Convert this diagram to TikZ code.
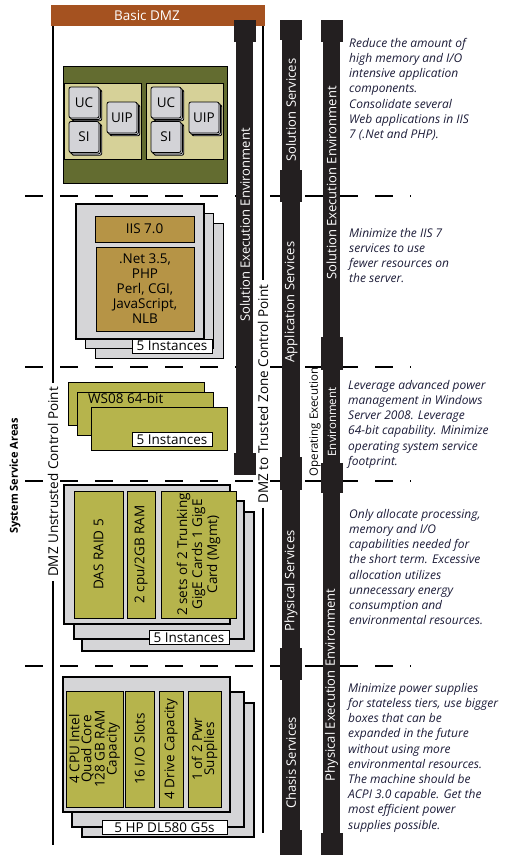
\documentclass[tikz,border=0pt]{standalone}
\usepackage{fontspec}
\setmainfont{Open Sans}
\usetikzlibrary{shadows}
\definecolor{brn}{RGB}{165,82,32}
\definecolor{barblk}{RGB}{35,31,32}
\definecolor{olv}{RGB}{99,108,48}
\definecolor{beige}{RGB}{214,209,152}
\definecolor{sqgray}{RGB}{211,211,215}
\definecolor{gbox}{RGB}{213,213,215}
\definecolor{tan}{RGB}{182,148,70}
\definecolor{ybox}{RGB}{182,180,76}
\definecolor{ink}{RGB}{28,28,56}

\begin{document}
\begin{tikzpicture}[x=1pt,y=-1pt,font=\fontsize{13.5}{15}\selectfont]
\tikzstyle{bar}=[fill=barblk]
\tikzstyle{bt}=[text=white,rotate=90,inner sep=1pt,font=\fontsize{13}{15}\selectfont]
\tikzstyle{cp}=[rotate=90,inner sep=4pt]
\tikzstyle{pa}=[anchor=north west,align=left,inner sep=0pt,text=ink,font=\fontsize{12}{15.2}\selectfont\itshape]
\tikzstyle{gb}=[draw,line width=1.8pt,fill=gbox]
\tikzstyle{yb}=[draw,line width=0.8pt,fill=ybox,inner sep=1pt]
\tikzstyle{tb}=[draw,line width=0.8pt,fill=tan,inner sep=1pt]
\tikzstyle{ins}=[draw,line width=0.8pt,fill=white,inner sep=0pt,minimum height=14pt]
\tikzstyle{sq}=[draw,line width=0.8pt,fill=sqgray,rounded corners=2pt,minimum width=30pt,minimum height=31pt,inner sep=0pt,
  double copy shadow={shadow xshift=1.4pt,shadow yshift=-1.4pt}]
\useasboundingbox (0,0) rectangle (509,860);

% layer separators
\foreach \y in {196,367,481,666}
  \draw[line width=2.7pt,dash pattern=on 18pt off 17pt] (25,\y) -- (411,\y);

\node[fill=brn,minimum width=214,minimum height=21,inner sep=0pt] (dmz) at (158,15.5) {};
\node[text=white] (dmzt) at (147,16) {Basic DMZ};

% control points
\node[cp] (unt) at (53,482) {DMZ Unstrusted Control Point};
\node[cp] (tzc) at (263,394) {DMZ to Trusted Zone Control Point};
\coordinate (lbot) at (53,845);
\coordinate (rbot) at (263,833);
\draw[line width=2pt] (unt |- dmz.south) -- (unt.east);
\draw[line width=2pt] (unt.west) -- (lbot);
\draw[line width=1.8pt] (tzc |- dmz.south) -- (tzc.east);
\draw[line width=1.8pt] (tzc.west) -- (rbot);
\node[rotate=90,font=\bfseries\fontsize{11}{13}\selectfont] (ssa) at (15,476) {System Service Areas};

% solution services
\draw[fill=olv,line width=0.8pt] (63,66) rectangle (227,183);
\foreach \p/\dx in {a/0,b/82} {
  \draw[fill=beige,line width=0.8pt] (64+\dx,83) rectangle ++(77,76);
  \node[sq] (uc\p) at (84+\dx,102.5) {UC};
  \node[sq] (si\p) at (84+\dx,137) {SI};
  \node[sq] (uip\p) at (122+\dx,117.5) {UIP};
}

% application services
\foreach \d in {19.5,9.5,0} \draw[gb] (76+\d,204+\d) rectangle ++(128,135);
\node[tb,minimum width=99,minimum height=26] (iis) at (144.5,229) {IIS 7.0};
\node[tb,minimum width=98,minimum height=84,align=center] (net) at (145,289) {.Net 3.5,\\PHP\\Perl, CGI,\\JavaScript,\\NLB};
\node[ins,minimum width=80] (in2) at (172,346) {5 Instances};

% operating system
\foreach \a/\b in {68/382,77/392,91/407} \draw[yb] (\a,\b) rectangle ++(136,43.5);
\node[anchor=west,inner sep=0pt] (ws) at (88,398.5) {WS08 64-bit};
\node[ins,minimum width=80] (in3) at (172,439.5) {5 Instances};

% physical services
\foreach \a/\b/\c/\d in {82/512/254/651,74/501/244/639,64/485/230/624} \draw[gb] (\a,\b) rectangle (\c,\d);
\node[yb,rotate=90,minimum width=127,minimum height=49] (das) at (98.5,554.5) {DAS RAID 5};
\node[yb,rotate=90,minimum width=127,minimum height=28] (cpu) at (141,554.5) {2 cpu/2GB RAM};
\node[yb,rotate=90,minimum width=127,minimum height=75,align=center] (nic) at (198.5,554.5) {2 sets of 2 Trunking\\GigE Cards 1 GigE\\Card (Mgmt)};
\node[ins,minimum width=80] (in4) at (189,637.5) {5 Instances};

% chasis services
\foreach \a/\b/\c/\d in {82/703/254/837,72/692/244/827,63/677/230/812} \draw[gb] (\a,\b) rectangle (\c,\d);
\node[yb,rotate=90,minimum width=116,minimum height=57,align=center,font=\fontsize{13.5}{12}\selectfont] (cpu4) at (94.5,749) {4 CPU Intel\\Quad Core\\128 GB RAM\\Capacity};
\node[yb,rotate=90,minimum width=116,minimum height=29] (slot) at (139.5,749) {16 I/O Slots};
\node[yb,rotate=90,minimum width=116,minimum height=24] (drv) at (171,749) {4 Drive Capacity};
\node[yb,rotate=90,minimum width=116,minimum height=33,align=center,font=\fontsize{13.5}{12}\selectfont] (pwr) at (204.5,749) {1 of 2 Pwr\\Supplies};
\node[ins,minimum width=125] (hp) at (164.5,827.5) {5 HP DL580 G5s};

% bars
\fill[bar] (236,20) rectangle (253,475);
\foreach \y in {20,453} \fill[bar] (234,\y) rectangle ++(22,22);
\fill[bar] (282,20) rectangle (300,855);
\foreach \a/\b in {20/40,170/202,457/490,648/680,830/855} \fill[bar] (280,\a) rectangle (302,\b);
\fill[bar] (323,20) rectangle (340,855);
\foreach \a/\b in {20/42,337/370,463/493,833/855} \fill[bar] (321,\a) rectangle (343,\b);

\node[bt] (see1) at (245,225) {Solution Execution Environment};
\node[bt] (sols) at (291,110) {Solution Services};
\node[bt] (apps) at (291,302) {Application Services};
\node[bt] (phys) at (291,581) {Physical Services};
\node[bt] (chas) at (291,763) {Chasis Services};
\node[bt] (see2) at (331.5,183) {Solution Execution Environment};
\node[rotate=90,inner sep=1pt,font=\fontsize{11.5}{13}\selectfont] (oee) at (315,422) {Operating Execution};
\node[bt,font=\fontsize{11.5}{13}\selectfont] (oenv) at (332,422) {Environment};
\node[bt] (pee) at (331.5,685) {Physical Execution Environment};

% notes
\node[pa] (t1) at (349,38) {Reduce the amount of\\high memory and I/O\\intensive  application\\components.\\Consolidate several\\Web applications in IIS\\7 (.Net and PHP).};
\node[pa] (t2) at (349,228) {Minimize the IIS 7\\services to use\\fewer resources on\\the server.};
\node[pa] (t3) at (348,380) {Leverage advanced power\\management in Windows\\Server 2008. Leverage\\64-bit capability. Minimize\\operating system service\\footprint.};
\node[pa] (t4) at (349,509) {Only allocate processing,\\memory and I/O\\capabilities needed for\\the short term. Excessive\\allocation utilizes\\unnecessary energy\\consumption and\\environmental resources.};
\node[pa] (t5) at (348,683) {Minimize power supplies\\for stateless tiers, use bigger\\boxes that can be\\expanded in the future\\without using more\\environmental resources.\\The machine should be\\ACPI 3.0 capable. Get the\\most efficient power\\supplies possible.};
\end{tikzpicture}
\end{document}
